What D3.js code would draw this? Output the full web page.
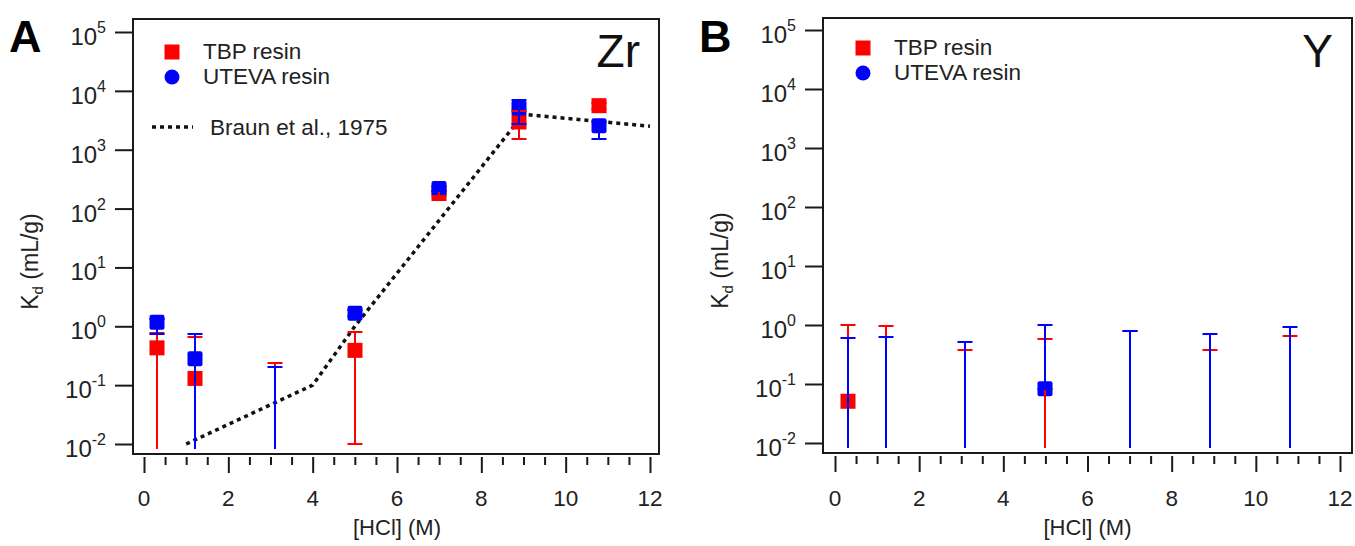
<!DOCTYPE html>
<html>

<head>
    <meta charset="utf-8">
    <style>
        body {
            margin: 0;
            background: #fff;
        }

        svg {
            display: block;
            font-family: "Liberation Sans", Arial, sans-serif;
        }
    </style>
</head>

<body>
    <svg width="1355" height="546"></svg>
</body>

<script src="https://d3js.org/d3.v7.min.js"></script>

<script>

    // HCl concentrations (M) where the resins were measured
    let hcl = [0.3, 1.2, 3.1, 5.0, 7.0, 8.9, 10.8];

    // Zr, TBP resin (null = below plot range)
    let zrTbp = [0.43, 0.13, null, 0.39, 180, 2960, 5600];
    let zrTbpHi = [0.76, 0.65, 0.235, 0.79, 200, 4500, 6200];
    let zrTbpLo = [0.008, 0.008, 0.008, 0.01, 165, 1540, 5000];

    // Zr, UTEVA resin
    let zrUteva = [1.17, 0.28, null, 1.66, 219, 5100, 2560];
    let zrUtevaHi = [1.35, 0.73, 0.2, 1.9, 240, 7000, 3000];
    let zrUtevaLo = [0.73, 0.008, 0.008, 1.5, 200, 2750, 1540];

    // Braun et al., 1975 literature curve for Zr
    let braunX = [1, 4, 5, 9, 12];
    let braunY = [0.01, 0.1, 1, 4000, 2500];

    // Y, TBP resin
    let yTbp = [0.051, null, null, null, null, null, null];
    let yTbpHi = [1.0, 0.98, 0.38, 0.58, 0.8, 0.38, 0.65];
    let yTbpLo = [0.008, 0.008, 0.008, 0.008, 0.008, 0.008, 0.008];

    // Y, UTEVA resin
    let yUteva = [null, null, null, 0.083, null, null, null];
    let yUtevaHi = [0.6, 0.62, 0.51, 1.0, 0.79, 0.7, 0.92];
    let yUtevaLo = [0.008, 0.008, 0.008, 0.083, 0.008, 0.008, 0.008];

    let xTicks = [0, 2, 4, 6, 8, 10, 12];
    let yTicks = [1e-2, 1e-1, 1e0, 1e1, 1e2, 1e3, 1e4, 1e5];
    let yExp = ["-2", "-1", "0", "1", "2", "3", "4", "5"];

    let red = "#ff0000";
    let blue = "#0000ff";

    let svg = d3.select("svg");

    function series(vals, hi, lo) {
        return hcl.map((x, i) => ({ x: x, v: vals[i], hi: hi[i], lo: lo[i] }));
    }

    function drawPanel(cfg) {

        let g = svg.append("g");

        let x = d3.scaleLinear().domain([0, 12]).range([cfg.x0, cfg.x12]);
        let y = d3.scaleLog().domain([1e-2, 1e5]).range([cfg.yBot, cfg.yTop]);
        // snapped x so the 2px error bars stay crisp
        let xs = d => Math.round(x(d));

        // frame
        g.append("rect")
            .attr("x", cfg.left)
            .attr("y", cfg.top)
            .attr("width", cfg.right - cfg.left)
            .attr("height", cfg.bottom - cfg.top)
            .style("fill", "none")
            .style("stroke", "#1a1a1a")
            .style("stroke-width", 2)

        // x axis: major + minor ticks hanging under the frame
        let xMajor = g.append("g")
            .attr("transform", "translate(0," + (cfg.bottom + 3) + ")")
            .call(d3.axisBottom(x).tickValues(xTicks).tickSize(16).tickFormat(""))
        let xMinor = g.append("g")
            .attr("transform", "translate(0," + (cfg.bottom + 3) + ")")
            .call(d3.axisBottom(x).tickValues(d3.range(0, 12.01, 0.5).filter(d => d % 2 != 0)).tickSize(8).tickFormat(""))
        xMajor.select(".domain").remove();
        xMinor.select(".domain").remove();
        g.selectAll(".tick line").style("stroke", "#1a1a1a").style("stroke-width", 2);

        g.append("g")
            .selectAll("text")
            .data(xTicks)
            .join("text")
            .attr("x", d => x(d))
            .attr("y", 506)
            .attr("text-anchor", "middle")
            .style("font-size", "22.5px")
            .style("fill", "#222")
            .text(d => d)

        g.append("text")
            .attr("x", (cfg.x0 + cfg.x12) / 2)
            .attr("y", 535)
            .attr("text-anchor", "middle")
            .style("font-size", "22px")
            .style("fill", "#222")
            .text("[HCl] (M)")

        // y axis
        let yAxis = g.append("g")
            .attr("transform", "translate(" + cfg.left + ",0)")
            .call(d3.axisLeft(y).tickValues(yTicks).tickSize(18).tickFormat(""))
        yAxis.select(".domain").remove();
        yAxis.selectAll(".tick line").style("stroke", "#1a1a1a").style("stroke-width", 2);

        let yLab = g.append("g")
            .selectAll("text")
            .data(yTicks)
            .join("text")
            .attr("x", cfg.left - 27)
            .attr("y", d => y(d) + 13)
            .attr("text-anchor", "end")
            .style("font-size", "24px")
            .style("fill", "#222")
        yLab.append("tspan").text("10")
        yLab.append("tspan")
            .attr("dy", -12)
            .style("font-size", "16px")
            .text((d, i) => yExp[i])

        let yTitle = g.append("text")
            .attr("transform", "translate(" + (cfg.left - 95) + "," + ((cfg.top + cfg.bottom) / 2 + 25) + ") rotate(-90)")
            .attr("text-anchor", "middle")
            .style("font-size", "23px")
            .style("fill", "#222")
        yTitle.append("tspan").text("K")
        yTitle.append("tspan").attr("dy", 5).style("font-size", "15px").text("d")
        yTitle.append("tspan").attr("dy", -5).text(" (mL/g)")

        // panel letter and element
        g.append("text")
            .attr("x", cfg.left - 124)
            .attr("y", 52)
            .style("font-size", "45px")
            .style("font-weight", "bold")
            .text(cfg.letter)

        g.append("text")
            .attr("x", cfg.right - 19)
            .attr("y", 67)
            .attr("text-anchor", "end")
            .style("font-size", "46px")
            .style("fill", "#111")
            .text(cfg.element)

        // literature curve
        if (cfg.curve) {
            g.append("path")
                .datum(cfg.curve)
                .attr("d", d3.line().x(d => x(d[0])).y(d => y(d[1])))
                .style("fill", "none")
                .style("stroke", "#111")
                .style("stroke-width", 3.5)
                .style("stroke-dasharray", "4,4")
        }

        // markers first, error bars over them
        let all = [{ data: cfg.tbp, color: red }, { data: cfg.uteva, color: blue }];

        all.forEach(s => {
            g.append("g")
                .selectAll("rect")
                .data(s.data.filter(d => d.v != null))
                .join("rect")
                .attr("x", d => xs(d.x) - 7.5)
                .attr("y", d => y(d.v) - 7.5)
                .attr("width", 15)
                .attr("height", 15)
                .attr("rx", s.color == blue ? 2 : 0)
                .style("fill", s.color)
        })

        all.forEach(s => {
            let bars = g.append("g")
                .selectAll("g")
                .data(s.data)
                .join("g")
                .style("stroke", s.color)
                .style("stroke-width", 2)

            bars.append("line")
                .attr("x1", d => xs(d.x))
                .attr("x2", d => xs(d.x))
                .attr("y1", d => d.lo < 0.01 ? cfg.bottom - 5 : y(d.lo))
                .attr("y2", d => y(d.hi))

            bars.append("line")
                .attr("x1", d => xs(d.x) - 7.5)
                .attr("x2", d => xs(d.x) + 7.5)
                .attr("y1", d => Math.round(y(d.hi)))
                .attr("y2", d => Math.round(y(d.hi)))

            bars.filter(d => d.lo >= 0.01)
                .append("line")
                .attr("x1", d => xs(d.x) - 7.5)
                .attr("x2", d => xs(d.x) + 7.5)
                .attr("y1", d => Math.round(y(d.lo)))
                .attr("y2", d => Math.round(y(d.lo)))
        })

        // legend
        let lg = g.append("g")
        lg.append("rect")
            .attr("x", cfg.legX - 7.5)
            .attr("y", cfg.legY - 7.5)
            .attr("width", 15)
            .attr("height", 15)
            .style("fill", red)
        lg.append("circle")
            .attr("cx", cfg.legX)
            .attr("cy", cfg.legY + 25)
            .attr("r", 7.5)
            .style("fill", blue)
        lg.append("text")
            .attr("x", cfg.legX + 31)
            .attr("y", cfg.legY + 7)
            .style("font-size", "22.5px")
            .style("fill", "#222")
            .text("TBP resin")
        lg.append("text")
            .attr("x", cfg.legX + 31)
            .attr("y", cfg.legY + 32)
            .style("font-size", "22.5px")
            .style("fill", "#222")
            .text("UTEVA resin")

        if (cfg.curve) {
            lg.append("line")
                .attr("x1", cfg.legX - 20)
                .attr("x2", cfg.legX + 21)
                .attr("y1", cfg.legY + 75)
                .attr("y2", cfg.legY + 75)
                .style("stroke", "#111")
                .style("stroke-width", 3.5)
                .style("stroke-dasharray", "4,4")
            lg.append("text")
                .attr("x", cfg.legX + 38)
                .attr("y", cfg.legY + 83)
                .style("font-size", "22.5px")
                .style("fill", "#222")
                .text("Braun et al., 1975")
        }
    }

    drawPanel({
        letter: "A", element: "Zr",
        left: 133, right: 659, top: 19, bottom: 454,
        x0: 144, x12: 650, yTop: 32, yBot: 444,
        legX: 172, legY: 52,
        tbp: series(zrTbp, zrTbpHi, zrTbpLo),
        uteva: series(zrUteva, zrUtevaHi, zrUtevaLo),
        curve: braunX.map((d, i) => [d, braunY[i]])
    })

    drawPanel({
        letter: "B", element: "Y",
        left: 823, right: 1352, top: 18, bottom: 453,
        x0: 835, x12: 1340, yTop: 30, yBot: 443,
        legX: 863, legY: 48,
        tbp: series(yTbp, yTbpHi, yTbpLo),
        uteva: series(yUteva, yUtevaHi, yUtevaLo),
        curve: null
    })

</script>

</html>
